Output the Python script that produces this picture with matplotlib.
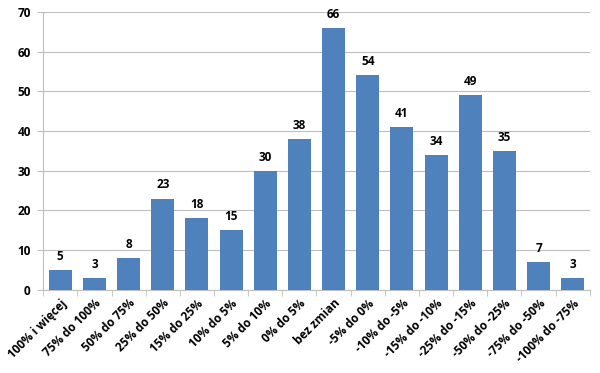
import matplotlib
matplotlib.use("Agg")
import matplotlib.pyplot as plt
import numpy as np

categories = ["100% i więcej", "75% do 100%", "50% do 75%", "25% do 50%",
              "15% do 25%", "10% do 5%", "5% do 10%", "0% do 5%", "bez zmian",
              "-5% do 0%", "-10% do -5%", "-15% do -10%", "-25% do -15%",
              "-50% do -25%", "-75% do -50%", "-100% do -75%"]
counts = [5, 3, 8, 23, 18, 15, 30, 38, 66, 54, 41, 34, 49, 35, 7, 3]
yticks = [0, 10, 20, 30, 40, 50, 60, 70]

plt.rcParams['font.family'] = ['Open Sans', 'DejaVu Sans']

fig = plt.figure(figsize=(6.0, 3.73), dpi=100)
ax = fig.add_axes([0.072, 0.223, 0.911, 0.745])

x = np.arange(len(categories))
ax.bar(x, counts, width=0.67, color="#4F81BD", zorder=3)
for xi, v in zip(x, counts):
    ax.text(xi, v + 1.8, str(v), ha="center", va="bottom",
            fontsize=8.5, fontweight="bold")

ax.set_xlim(-0.5, len(categories) - 0.5)
ax.set_ylim(0, 70)
ax.set_yticks(yticks)
ax.set_yticklabels([str(t) for t in yticks], fontsize=8.5, fontweight="bold")
ax.yaxis.grid(True, color="#BFBFBF", linewidth=0.8, zorder=0)
ax.set_xticks(np.arange(len(categories) + 1) - 0.5, minor=True)
ax.set_xticks(x)
ax.set_xticklabels(categories, rotation=45, ha="right", rotation_mode="anchor",
                   fontsize=8.5, fontweight="bold")
ax.tick_params(axis="x", which="major", length=0, pad=5)
ax.tick_params(axis="x", which="minor", length=4, color="#BFBFBF")
ax.tick_params(axis="y", length=4, color="#BFBFBF", pad=5)
for s in ["top", "right"]:
    ax.spines[s].set_visible(False)
ax.spines["left"].set_color("#BFBFBF")
ax.spines["bottom"].set_color("#BFBFBF")

fig.savefig("out.png", dpi=100)
